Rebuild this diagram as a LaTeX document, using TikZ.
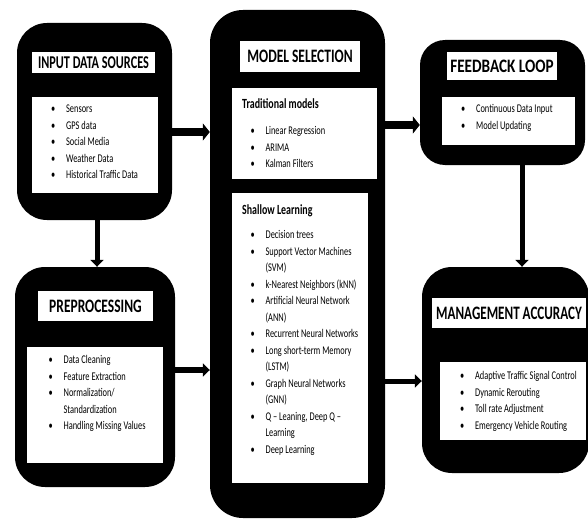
\documentclass[tikz,border=0pt]{standalone}
\usepackage{fontspec}
\setmainfont{Carlito}
\usepackage{graphicx}
\usetikzlibrary{arrows.meta}

% squeeze text sideways, bullet and hanging indent for the lists
\newcommand{\narrow}[2][0.71]{\scalebox{#1}[1]{#2}}
\newcommand{\bl}{\makebox[21pt][l]{\textbullet}}
\newcommand{\gap}{\hspace*{21pt}}

\begin{document}
\begin{tikzpicture}[x=1pt, y=-1pt,
    box/.style={fill=black, rounded corners=30pt, inner sep=0pt},
    panel/.style={fill=white, inner sep=0pt},
    titlebox/.style={panel, font=\bfseries\fontsize{19}{21}\selectfont},
    subhead/.style={inner sep=0pt, anchor=base west, font=\bfseries\fontsize{14}{16}\selectfont},
    items/.style={inner sep=0pt, anchor=base west, font=\fontsize{11.8}{16.5}\selectfont},
    bigarrow/.style={line width=8pt, -{Triangle[width=17pt,length=7pt]}},
    arrow/.style={line width=5pt, -{Triangle[width=13pt,length=7pt]}}]

    \useasboundingbox (0,0) rectangle (588,519);

    % Input data sources
    \node[box, minimum width=155pt, minimum height=197pt] (input) at (94.5,121.5) {};
    \node[titlebox, minimum width=123pt, minimum height=21pt] (inputT) at (93.5,62.5)
        {\narrow[0.68]{\fontsize{18}{20}\selectfont INPUT DATA SOURCES}};
    \node[panel, minimum width=126pt, minimum height=96pt] (inputP) at (95,145) {};
    \node[items] (inputL) at (51,112.5) {\narrow{\begin{tabular}[t]{@{}l@{}}
        \bl Sensors\\
        \bl GPS data\\
        \bl Social Media\\
        \bl Weather Data\\
        \bl Historical Traffic Data
    \end{tabular}}};

    % Preprocessing
    \node[box, minimum width=160pt, minimum height=220pt] (prep) at (95,377) {};
    \node[titlebox, minimum width=115pt, minimum height=30pt] (prepT) at (95.5,306)
        {\narrow{PREPROCESSING}};
    \node[panel, minimum width=136pt, minimum height=116pt] (prepP) at (95,405) {};
    \node[items] (prepL) at (48.5,363.5) {\narrow{\begin{tabular}[t]{@{}l@{}}
        \bl Data Cleaning\\
        \bl Feature Extraction\\
        \bl Normalization/\\
        \gap Standardization\\
        \bl Handling Missing Values
    \end{tabular}}};

    % Model selection
    \node[box, rounded corners=33pt, minimum width=175pt, minimum height=508pt] (model) at (297.5,264) {};
    \node[titlebox, minimum width=120pt, minimum height=31pt] (modelT) at (300,56.5)
        {\narrow{MODEL SELECTION}};
    \node[panel, minimum width=145pt, minimum height=91pt] (tradP) at (304.5,133.5) {};
    \node[subhead] (tradH) at (242,108) {\narrow{Traditional models}};
    \node[items] (tradL) at (250.5,134.5) {\narrow{\begin{tabular}[t]{@{}l@{}}
        \bl Linear Regression\\
        \bl ARIMA\\
        \bl Kalman Filters
    \end{tabular}}};
    \node[panel, minimum width=136pt, minimum height=290pt] (shalP) at (300,338) {};
    \node[subhead] (shalH) at (242,214) {\narrow{Shallow Learning}};
    \node[items] (shalL) at (250.5,238.5) {\narrow{\begin{tabular}[t]{@{}l@{}}
        \bl Decision trees\\
        \bl Support Vector Machines\\
        \gap (SVM)\\
        \bl k-Nearest Neighbors (kNN)\\
        \bl Artificial Neural Network\\
        \gap (ANN)\\
        \bl Recurrent Neural Networks\\
        \bl Long short-term Memory\\
        \gap (LSTM)\\
        \bl Graph Neural Networks\\
        \gap (GNN)\\
        \bl Q -- Leaning, Deep Q --\\
        \gap Learning\\
        \bl Deep Learning
    \end{tabular}}};

    % Feedback loop
    \node[box, rounded corners=25pt, minimum width=165pt, minimum height=125pt] (feed) at (502.5,102.5) {};
    \node[titlebox, minimum width=110pt, minimum height=28pt] (feedT) at (502,66)
        {\narrow[0.8]{FEEDBACK LOOP}};
    \node[panel, minimum width=133pt, minimum height=48pt] (feedP) at (508.5,121) {};
    \node[items] (feedL) at (461,112.5) {\narrow{\begin{tabular}[t]{@{}l@{}}
        \bl Continuous Data Input\\
        \bl Model Updating
    \end{tabular}}};

    % Management accuracy
    \node[box, minimum width=167pt, minimum height=206pt] (mgmt) at (505.5,370) {};
    \node[titlebox, minimum width=154pt, minimum height=30pt] (mgmtT) at (509,313)
        {\narrow[0.69]{MANAGEMENT ACCURACY}};
    \node[panel, minimum width=146pt, minimum height=78pt] (mgmtP) at (513,401) {};
    \node[items] (mgmtL) at (460,379.5) {\narrow{\begin{tabular}[t]{@{}l@{}}
        \bl Adaptive Traffic Signal Control\\
        \bl Dynamic Rerouting\\
        \bl Toll rate Adjustment\\
        \bl Emergency Vehicle Routing
    \end{tabular}}};

    % Connectors
    \draw[bigarrow] (input.east |- 0,132) -- (model.west |- 0,132);
    \draw[arrow, line width=6pt] (prep.east |- 0,370) -- (model.west |- 0,370);
    \draw[bigarrow] (model.east |- 0,125) -- (feed.west |- 0,125);
    \draw[arrow] (model.east |- 0,381) -- (mgmt.west |- 0,381);
    \draw[arrow] (input.south -| 97,0) -- (prep.north -| 97,0);
    \draw[arrow] (feed.south -| 522,0) -- (mgmt.north -| 522,0);

\end{tikzpicture}
\end{document}
